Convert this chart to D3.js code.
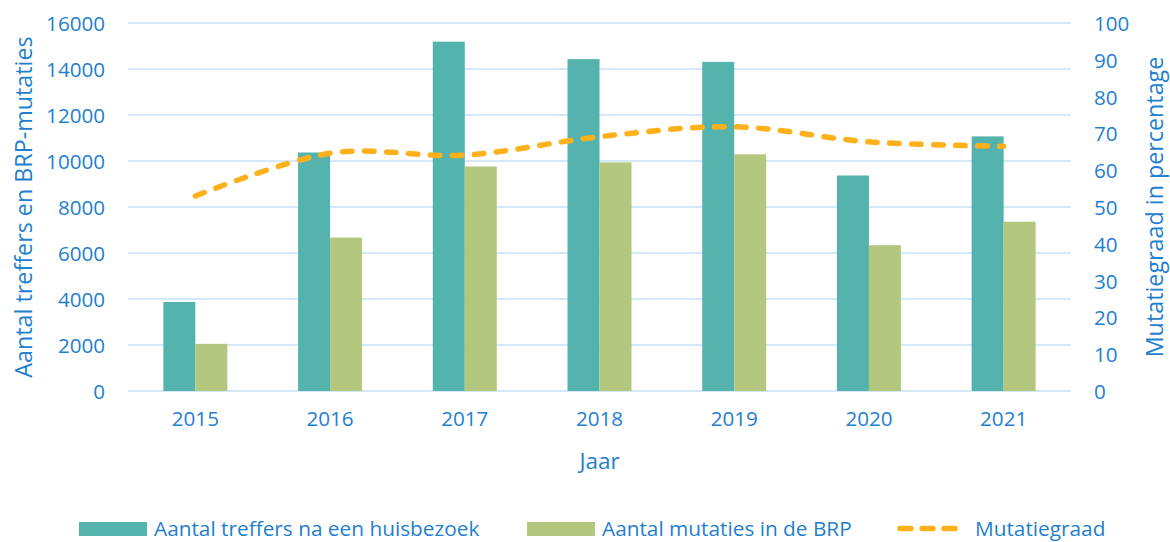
<!DOCTYPE html>
<html>
<head>
<meta charset="utf-8">
<script src="https://cdn.jsdelivr.net/npm/d3@7"></script>
<style>
  body { margin: 0; background: #fff; }
  svg { display: block; font-family: "Open Sans", sans-serif; }
</style>
</head>
<body>
<script>
// chart data
const years = ["2015", "2016", "2017", "2018", "2019", "2020", "2021"];
const treffers = [3870, 10370, 15190, 14430, 14310, 9370, 11070];
const mutaties = [2050, 6670, 9760, 9940, 10290, 6340, 7360];
const mutatiegraad = [53.0, 64.6, 64.1, 69.1, 71.8, 67.7, 66.5];
const leftTicks = [0, 2000, 4000, 6000, 8000, 10000, 12000, 14000, 16000];
const rightTicks = [0, 10, 20, 30, 40, 50, 60, 70, 80, 90, 100];
const seriesNames = ["Aantal treffers na een huisbezoek", "Aantal mutaties in de BRP", "Mutatiegraad"];

const width = 1170;
const height = 542;
const plot = { left: 128, right: 1071, top: 23, bottom: 391 };

const teal = "#55B3AE";
const green = "#B3C87E";
const orange = "#FFB11B";
const blue = "#1F80CF";
const grid = "#C6E1F5";

const svg = d3
  .select("body")
  .append("svg")
  .attr("width", width)
  .attr("height", height);

svg.append("rect").attr("width", width).attr("height", height).attr("fill", "#fff");

const x = d3
  .scaleBand()
  .domain(years)
  .range([plot.left, plot.right])
  .paddingInner(0.525)
  .paddingOuter(0.2625);

const sub = d3
  .scaleBand()
  .domain(["treffers", "mutaties"])
  .range([0, x.bandwidth()]);

const yLeft = d3.scaleLinear().domain([0, 16000]).range([plot.bottom, plot.top]);
const yRight = d3.scaleLinear().domain([0, 100]).range([plot.bottom, plot.top]);

// gridlines
svg
  .append("g")
  .selectAll("line")
  .data(leftTicks)
  .join("line")
  .attr("x1", plot.left)
  .attr("x2", plot.right)
  .attr("y1", (d) => yLeft(d))
  .attr("y2", (d) => yLeft(d))
  .attr("stroke", grid)
  .attr("stroke-width", 1.6);

// left axis
const leftAxis = svg
  .append("g")
  .attr("transform", `translate(${plot.left},0)`)
  .call(d3.axisLeft(yLeft).tickValues(leftTicks).tickSize(0).tickPadding(23).tickFormat(d3.format("d")));
leftAxis.select(".domain").remove();
leftAxis
  .selectAll("text")
  .attr("fill", blue)
  .attr("font-size", 20.6)
  .attr("font-family", "Open Sans")
  .attr("dy", "0.36em");

// right axis
const rightAxis = svg
  .append("g")
  .attr("transform", `translate(${plot.right},0)`)
  .call(d3.axisRight(yRight).tickValues(rightTicks).tickSize(0).tickPadding(23));
rightAxis.select(".domain").remove();
rightAxis
  .selectAll("text")
  .attr("fill", blue)
  .attr("font-size", 20.6)
  .attr("font-family", "Open Sans")
  .attr("dy", "0.36em");

// x axis
const xAxis = svg
  .append("g")
  .attr("transform", `translate(0,${plot.bottom})`)
  .call(d3.axisBottom(x).tickSize(0).tickPadding(20));
xAxis.select(".domain").remove();
xAxis
  .selectAll("text")
  .attr("fill", blue)
  .attr("font-size", 20.6)
  .attr("font-family", "Open Sans");

// bars
const groups = svg
  .append("g")
  .selectAll("g")
  .data(years.map((year, i) => ({ year, treffers: treffers[i], mutaties: mutaties[i] })))
  .join("g")
  .attr("transform", (d) => `translate(${x(d.year)},0)`);

groups
  .selectAll("rect")
  .data((d) => [
    { key: "treffers", value: d.treffers, color: teal },
    { key: "mutaties", value: d.mutaties, color: green },
  ])
  .join("rect")
  .attr("x", (d) => sub(d.key))
  .attr("y", (d) => yLeft(d.value))
  .attr("width", sub.bandwidth())
  .attr("height", (d) => plot.bottom - yLeft(d.value))
  .attr("fill", (d) => d.color);

// smoothed dashed line
const line = d3
  .line()
  .x((d, i) => x(years[i]) + x.bandwidth() / 2)
  .y((d) => yRight(d))
  .curve(d3.curveCardinal.tension(0));

svg
  .append("path")
  .datum(mutatiegraad)
  .attr("d", line)
  .attr("fill", "none")
  .attr("stroke", orange)
  .attr("stroke-width", 5.5)
  .attr("stroke-linecap", "round")
  .attr("stroke-dasharray", "9.5,12.5");

// axis titles
svg
  .append("text")
  .attr("transform", `translate(31.5,${(plot.top + plot.bottom) / 2}) rotate(-90)`)
  .attr("text-anchor", "middle")
  .attr("fill", blue)
  .attr("font-size", 23.3)
  .text("Aantal treffers en BRP-mutaties");

svg
  .append("text")
  .attr("transform", `translate(1163,${(plot.top + plot.bottom) / 2}) rotate(-90)`)
  .attr("text-anchor", "middle")
  .attr("fill", blue)
  .attr("font-size", 23.3)
  .text("Mutatiegraad in percentage");

svg
  .append("text")
  .attr("x", (plot.left + plot.right) / 2)
  .attr("y", 469)
  .attr("text-anchor", "middle")
  .attr("fill", blue)
  .attr("font-size", 22.5)
  .text("Jaar");

// legend (raised a little so descenders stay inside the picture)
const legendY = 522;
const legend = svg.append("g").attr("font-size", 20.8).attr("fill", blue);

legend.append("rect").attr("x", 79).attr("y", legendY).attr("width", 68).attr("height", 14).attr("fill", teal);
legend.append("text").attr("x", 154).attr("y", legendY + 14).text(seriesNames[0]);

legend.append("rect").attr("x", 527).attr("y", legendY).attr("width", 68).attr("height", 14).attr("fill", green);
legend.append("text").attr("x", 602).attr("y", legendY + 14).text(seriesNames[1]);

legend
  .append("line")
  .attr("x1", 900)
  .attr("x2", 958)
  .attr("y1", legendY + 6.5)
  .attr("y2", legendY + 6.5)
  .attr("stroke", orange)
  .attr("stroke-width", 5.5)
  .attr("stroke-linecap", "round")
  .attr("stroke-dasharray", "11,11");
legend.append("text").attr("x", 975).attr("y", legendY + 14).text(seriesNames[2]);
</script>
</body>
</html>
